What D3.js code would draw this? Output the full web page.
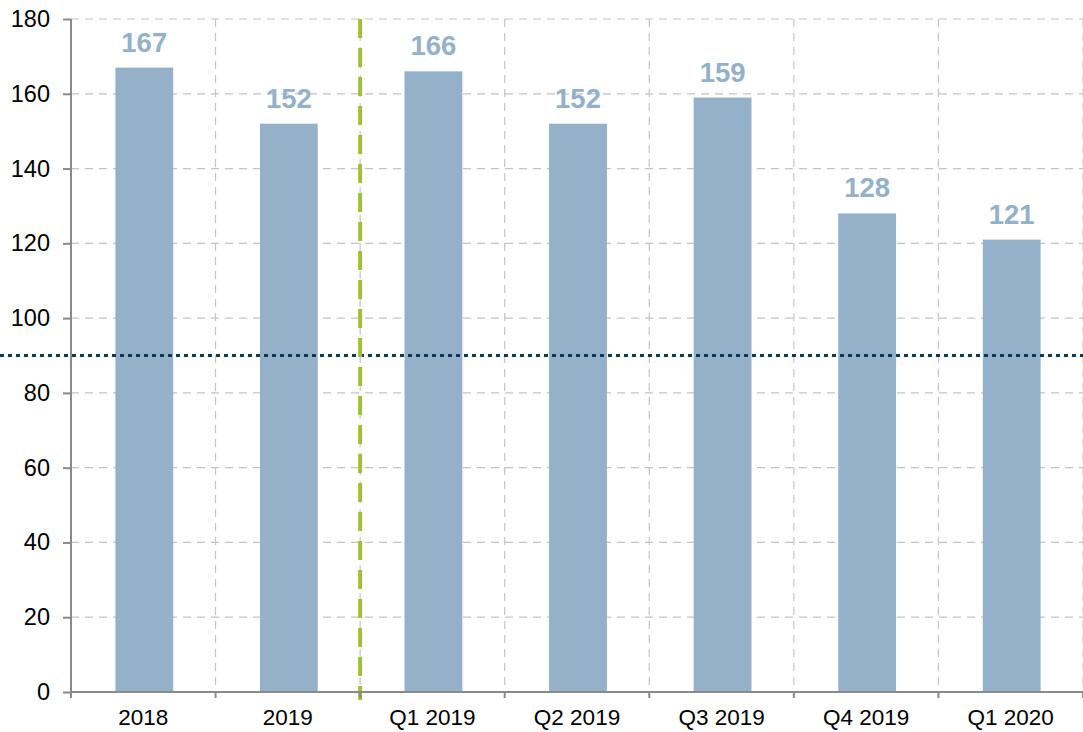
<!doctype html>
<html>
<head>
    <meta charset="utf-8">
    <title>Chart</title>
    <script src="https://cdn.jsdelivr.net/npm/d3@7"></script>
    <style>
    body { margin: 0; background: #fff; }
    text { font-family: "Liberation Sans", Arial, sans-serif; }
    </style>
</head>
<body>
    <svg width="1083" height="732"></svg>
    <script>
    var categories = ["2018", "2019", "Q1 2019", "Q2 2019", "Q3 2019", "Q4 2019", "Q1 2020"];
    var values = [167, 152, 166, 152, 159, 128, 121];
    var yTicks = [0, 20, 40, 60, 80, 100, 120, 140, 160, 180];
    var targetLine = 90;
    var splitAfter = "2019";

    var svg = d3.select("svg"),
        margin = { top: 19, right: 0, bottom: 40, left: 71 },
        width = +svg.attr("width") - margin.left - margin.right,
        height = +svg.attr("height") - margin.top - margin.bottom,
        g = svg.append("g").attr("transform", "translate(" + margin.left + "," + margin.top + ")");

    var x = d3.scaleBand().domain(categories).range([0, width]).paddingInner(0).paddingOuter(0);
    var y = d3.scaleLinear().domain([0, 180]).range([height, 0]);
    var bw = x.bandwidth() * 0.4;

    // horizontal grid
    g.selectAll(".hgrid")
        .data(yTicks.filter(function(d) { return d > 0; }))
        .enter().append("line")
        .attr("x1", 0).attr("x2", width)
        .attr("y1", y).attr("y2", y)
        .attr("stroke", "#c4c4c4").attr("stroke-width", 1.2)
        .attr("stroke-dasharray", "8,6");

    // vertical grid at band edges
    var edges = categories.slice(1).map(function(c) { return x(c); }).concat([width]);
    g.selectAll(".vgrid")
        .data(edges)
        .enter().append("line")
        .attr("x1", function(d) { return d; }).attr("x2", function(d) { return d; })
        .attr("y1", 0).attr("y2", height)
        .attr("stroke", "#c4c4c4").attr("stroke-width", 1.2)
        .attr("stroke-dasharray", "8,6");

    // bars
    g.selectAll(".bar")
        .data(values)
        .enter().append("rect")
        .attr("x", function(d, i) { return x(categories[i]) + (x.bandwidth() - bw) / 2 + 1; })
        .attr("width", bw)
        .attr("y", function(d) { return y(d); })
        .attr("height", function(d) { return height - y(d); })
        .attr("fill", "#94b1c9");

    // value labels
    g.selectAll(".lbl")
        .data(values)
        .enter().append("text")
        .attr("x", function(d, i) { return x(categories[i]) + x.bandwidth() / 2 + 1; })
        .attr("y", function(d) { return y(d) - 16; })
        .attr("text-anchor", "middle")
        .attr("font-size", "27.5px")
        .attr("font-weight", "bold")
        .attr("fill", "#94b1c9")
        .text(function(d) { return d; });

    // target dotted line
    g.append("line")
        .attr("x1", -margin.left).attr("x2", width)
        .attr("y1", y(targetLine)).attr("y2", y(targetLine))
        .attr("stroke", "#0e3a58").attr("stroke-width", 3)
        .attr("stroke-dasharray", "4,4");

    // split line
    var sx = x(splitAfter) + x.bandwidth();
    g.append("line")
        .attr("x1", sx).attr("x2", sx)
        .attr("y1", 0).attr("y2", height + 8)
        .attr("stroke", "#a3bf35").attr("stroke-width", 4)
        .attr("stroke-dasharray", "19,10");

    // y axis
    var yAxis = g.append("g")
        .call(d3.axisLeft(y).tickValues(yTicks).tickSize(8).tickPadding(13));
    yAxis.select(".domain").attr("stroke", "#8a8a8a").attr("stroke-width", 2).attr("d", "M0," + (height + 6) + "V0");
    yAxis.selectAll(".tick line").attr("stroke", "#8a8a8a").attr("stroke-width", 2);
    yAxis.selectAll(".tick text").attr("font-size", "23.5px").attr("fill", "#000")
        .style("font-family", "'Liberation Sans', Arial, sans-serif");

    // x axis
    var xAxis = g.append("g")
        .attr("transform", "translate(0," + height + ")")
        .call(d3.axisBottom(x).tickSize(0).tickPadding(17));
    xAxis.select(".domain").attr("stroke", "#8a8a8a").attr("stroke-width", 2).attr("d", "M0,0H" + width);
    xAxis.selectAll(".tick text").attr("font-size", "22.5px").attr("fill", "#000")
        .style("font-family", "'Liberation Sans', Arial, sans-serif");
    xAxis.selectAll(".edge")
        .data([0].concat(edges))
        .enter().append("line")
        .attr("x1", function(d) { return d; }).attr("x2", function(d) { return d; })
        .attr("y1", 0).attr("y2", 6)
        .attr("stroke", "#8a8a8a").attr("stroke-width", 2);
    </script>
</body>
</html>
